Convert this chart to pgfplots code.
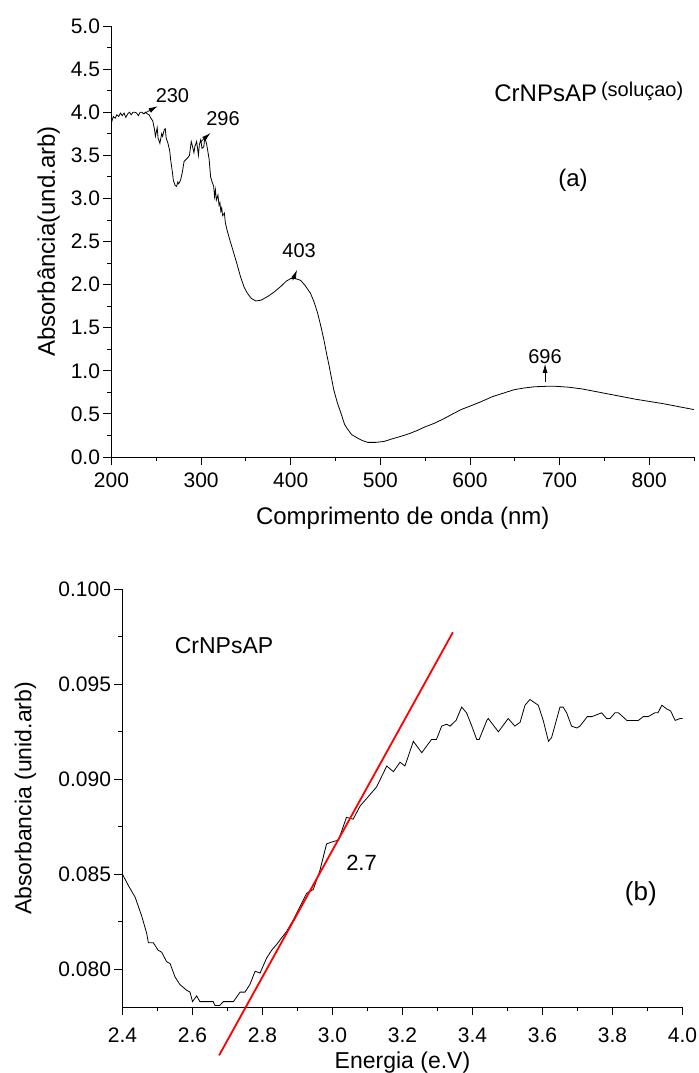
\documentclass[border=0pt]{standalone}
\usepackage{pgfplots}
\pgfplotsset{compat=1.18}
\usepackage{fontspec}
\setmainfont{Liberation Sans}
\usetikzlibrary{arrows.meta}

\pgfplotstableread{
x y
200 3.88
202 3.95
204 3.93
206 3.97
208 3.95
210 3.99
212 3.96
214 3.99
216 3.94
218 3.98
220 4.00
222 3.97
224 4.00
226 4.00
228 3.99
230 3.96
232 4.00
234 4.00
236 3.98
238 4.00
240 3.98
242 3.97
244 3.93
246 3.90
248 3.80
249 3.72
251 3.82
252 3.70
254 3.64
256 3.75
257 3.72
259 3.80
260 3.81
261 3.70
263 3.64
265 3.55
266 3.45
268 3.30
269 3.21
271 3.15
272.6 3.14
274 3.19
275 3.17
277 3.21
279 3.30
281 3.43
283 3.45
285 3.47
287 3.50
289 3.66
290 3.62
292 3.53
293 3.60
295 3.66
296 3.58
297 3.50
298 3.62
299.6 3.68
301 3.58
303 3.60
304 3.70
306 3.64
307.6 3.54
309 3.45
310.6 3.25
312 3.20
314 3.14
315 3.02
316 3.10
317 2.98
318.8 3.04
320 2.92
321 2.95
322 2.85
323 2.89
324 2.80
326 2.83
327 2.72
329 2.63
332 2.52
336.6 2.36
340 2.24
344 2.09
348 1.97
351.6 1.90
356 1.84
361 1.81
367 1.82
374 1.86
381 1.91
389 1.98
395 2.04
400 2.07
405 2.07
411 2.05
416 1.99
422 1.90
426 1.80
430 1.67
434 1.50
437 1.36
440 1.20
443 1.05
448 0.78
452 0.63
456 0.51
460 0.38
463 0.33
468 0.26
474.5 0.22
480 0.19
486 0.17
495 0.17
504 0.18
513 0.21
523 0.24
532 0.27
541.6 0.31
550 0.35
560 0.39
570 0.44
579 0.49
590 0.55
600 0.59
612 0.64
625 0.70
637 0.74
649 0.78
660 0.80
672 0.815
685 0.82
696 0.82
710 0.81
725 0.79
740 0.76
755 0.73
770 0.70
785 0.67
800 0.645
815 0.62
830 0.59
850 0.55
}\spectrum

\pgfplotstableread{
x y
2.400 0.0850
2.417 0.0844
2.436 0.0838
2.455 0.0828
2.469 0.0819
2.474 0.0814
2.488 0.0814
2.502 0.0810
2.512 0.0809
2.526 0.0804
2.536 0.0803
2.550 0.0796
2.564 0.0792
2.583 0.0789
2.593 0.0788
2.600 0.0783
2.612 0.0786
2.621 0.0783
2.659 0.0783
2.664 0.0781
2.678 0.0781
2.688 0.0783
2.717 0.0783
2.736 0.0788
2.750 0.0788
2.764 0.0792
2.779 0.0799
2.793 0.0798
2.812 0.0806
2.826 0.0810
2.840 0.0813
2.869 0.0820
2.888 0.0826
2.907 0.0833
2.926 0.0840
2.945 0.0842
2.964 0.0852
2.983 0.0866
2.998 0.0867
3.017 0.0868
3.040 0.0880
3.059 0.0879
3.079 0.0886
3.098 0.0890
3.126 0.0896
3.155 0.0907
3.174 0.0904
3.193 0.0909
3.207 0.0907
3.231 0.0920
3.255 0.0914
3.283 0.0921
3.297 0.0921
3.312 0.0928
3.326 0.0929
3.336 0.0928
3.353 0.0931
3.369 0.0938
3.383 0.0935
3.398 0.0928
3.412 0.0921
3.419 0.0921
3.441 0.0931
3.445 0.0932
3.474 0.0925
3.502 0.0932
3.521 0.0928
3.536 0.0930
3.550 0.0939
3.564 0.0942
3.588 0.0939
3.602 0.0931
3.617 0.0920
3.626 0.0922
3.650 0.0938
3.659 0.0938
3.669 0.0935
3.683 0.0928
3.698 0.0927
3.707 0.0928
3.728 0.0933
3.741 0.0933
3.769 0.0935
3.783 0.0932
3.793 0.0932
3.807 0.0935
3.817 0.0935
3.841 0.0931
3.874 0.0931
3.888 0.0933
3.902 0.0933
3.921 0.0935
3.930 0.0935
3.941 0.0939
3.955 0.0937
3.966 0.0936
3.979 0.0931
3.993 0.0932
4.000 0.0932
}\bandgap

\pgfplotsset{myax/.style={
  scale only axis,
  axis lines=left,
  axis line style={-, line width=0.9bp},
  tick align=outside,
  major tick length=8bp,
  minor tick length=4bp,
  every tick/.style={line width=0.9bp, black},
  tick label style={font=\fontsize{21bp}{24bp}\selectfont},
  label style={font=\fontsize{24bp}{28bp}\selectfont},
  /pgf/number format/assume math mode=true,
  clip=false,
}}

\begin{document}
\begin{tikzpicture}
\path[use as bounding box] (0,0) rectangle (699bp,-1073bp);

\begin{axis}[myax,
  at={(111.5bp,-457bp)}, anchor=south west,
  width=582.5bp, height=431bp,
  xmin=200, xmax=850, ymin=0, ymax=5,
  xtick={200,300,...,800},
  minor xtick={250,350,...,850},
  ytick={0,0.5,...,5},
  minor ytick={0.25,0.75,...,4.75},
  yticklabel style={/pgf/number format/.cd, fixed, fixed zerofill, precision=1},
  xticklabel style={yshift=-4bp, /pgf/number format/.cd, fixed, precision=0},
  xlabel={Comprimento de onda (nm)},
  ylabel={Absorbância(und.arb)},
  xlabel style={at={(axis description cs:0.5,0)}, anchor=center, yshift=-61bp},
  ylabel style={at={(axis description cs:0,0.5)}, anchor=center, yshift=63bp},
]
\addplot[black, line width=0.8bp] table[x=x, y=y] {\spectrum};
\draw[-{Latex[length=9bp,width=5bp]}, line width=0.7bp] (axis cs:237.4,3.99) -- (axis cs:251.5,4.07);
\node[font=\fontsize{20bp}{24bp}\selectfont] at (axis cs:268,4.19) {230};
\draw[-{Latex[length=9bp,width=5bp]}, line width=0.7bp] (axis cs:298.8,3.65) -- (axis cs:310.5,3.76);
\node[font=\fontsize{20bp}{24bp}\selectfont] at (axis cs:324.4,3.92) {296};
\draw[-{Latex[length=9bp,width=5bp]}, line width=0.7bp] (axis cs:402.2,2.05) -- (axis cs:407,2.17);
\node[font=\fontsize{20bp}{24bp}\selectfont] at (axis cs:409.3,2.40) {403};
\draw[-{Latex[length=9bp,width=5bp]}, line width=0.7bp] (axis cs:683.8,0.87) -- (axis cs:683.8,1.08);
\node[font=\fontsize{20bp}{24bp}\selectfont] at (axis cs:683.8,1.17) {696};
\node[anchor=west, inner sep=0pt, font=\fontsize{24bp}{28bp}\selectfont] at (axis cs:627,4.24) {CrNPsAP\,\raisebox{5bp}{\fontsize{20bp}{23bp}\selectfont(soluçao)}};
\node[font=\fontsize{24bp}{28bp}\selectfont] at (axis cs:715,3.21) {(a)};
\end{axis}

\begin{axis}[myax,
  at={(122.5bp,-1007.3bp)}, anchor=south west,
  width=560bp, height=418bp,
  xmin=2.4, xmax=4.0, ymin=0.078, ymax=0.100,
  xtick={2.4,2.6,...,4.01},
  minor xtick={2.5,2.7,...,3.95},
  ytick={0.080,0.085,...,0.1001},
  minor ytick={0.0825,0.0875,0.0925,0.0975},
  yticklabel style={/pgf/number format/.cd, fixed, fixed zerofill, precision=3},
  xticklabel style={yshift=-9bp, /pgf/number format/.cd, fixed, fixed zerofill, precision=1},
  scaled y ticks=false,
  xlabel={Energia (e.V)},
  ylabel={Absorbancia (unid.arb)},
  xlabel style={at={(axis description cs:0.5,0)}, anchor=center, yshift=-55bp, inner sep=0pt, font=\fontsize{23bp}{26bp}\selectfont},
  ylabel style={at={(axis description cs:0,0.5)}, anchor=center, yshift=97bp, font=\fontsize{23bp}{26bp}\selectfont},
]
\addplot[black, line width=0.8bp] table[x=x, y=y] {\bandgap};
\addplot[red, line width=1.8bp] coordinates {(2.676,0.07547) (3.344,0.09774)};
\node[font=\fontsize{22bp}{26bp}\selectfont] at (axis cs:3.083,0.08561) {2.7};
\node[font=\fontsize{23bp}{27bp}\selectfont] at (axis cs:2.69,0.09705) {CrNPsAP};
\node[font=\fontsize{26bp}{30bp}\selectfont] at (axis cs:3.881,0.0840) {(b)};
\end{axis}
\end{tikzpicture}
\end{document}
